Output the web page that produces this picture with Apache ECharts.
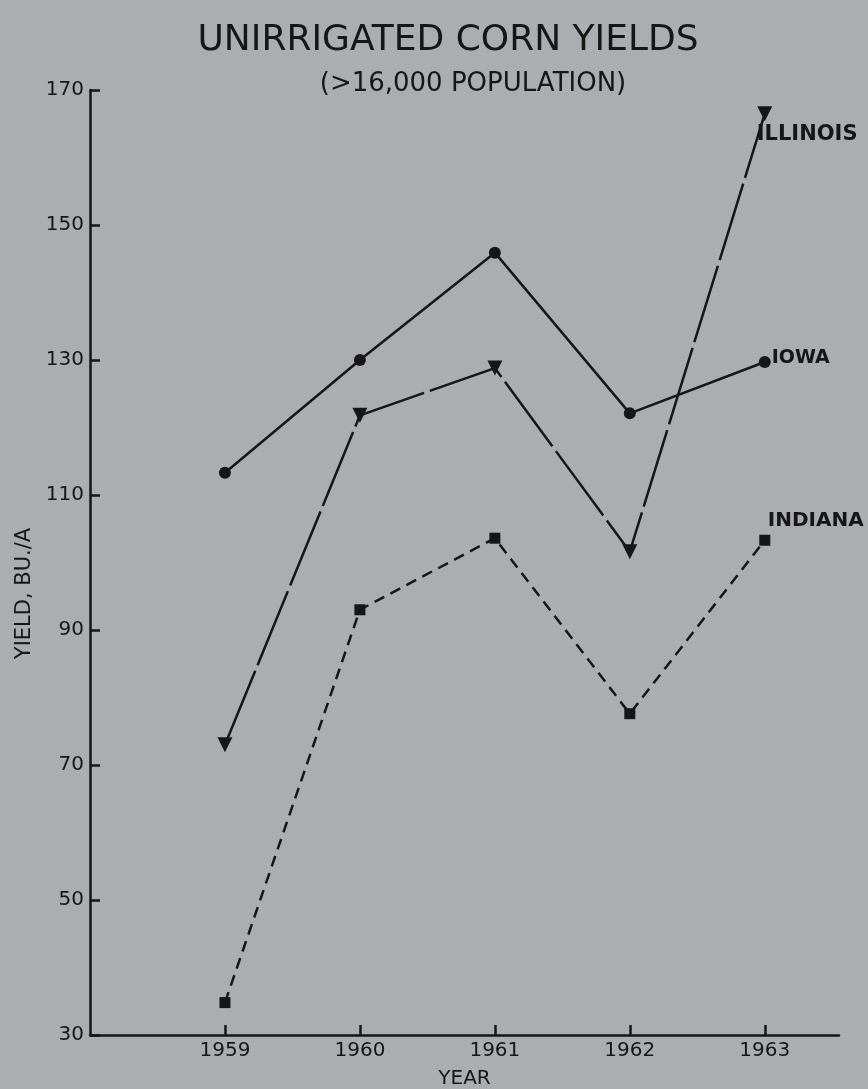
<!DOCTYPE html>
<html>
<head>
<meta charset="utf-8">
<script src="https://cdn.jsdelivr.net/npm/echarts@6/dist/echarts.min.js"></script>
<style>
  html, body { margin: 0; padding: 0; background: #acadb1; }
  #chart { width: 868px; height: 1089px; }
</style>
</head>
<body>
<div id="chart"></div>
<script>
const years = [1959, 1960, 1961, 1962, 1963];
const iowa = [113.3, 130.0, 145.9, 122.1, 129.7];
const illinois = [73.0, 121.8, 128.8, 101.6, 166.5];
const indiana = [34.8, 93.0, 103.6, 77.6, 103.3];
const seriesNames = ['ILLINOIS', 'IOWA', 'INDIANA'];

const ink = '#161616';
const font = 'DejaVu Sans';

function pairs(vals) { return years.map((y, i) => [y, vals[i]]); }

const chart = echarts.init(document.getElementById('chart'));
chart.setOption({
  backgroundColor: '#acadb1',
  animation: false,
  title: [
    { text: 'UNIRRIGATED CORN YIELDS', left: 443, top: 18, textAlign: 'center',
      textStyle: { fontFamily: font, fontSize: 36, fontWeight: 'normal', color: ink } },
    { text: '(>16,000 POPULATION)', left: 468, top: 66, textAlign: 'center',
      textStyle: { fontFamily: font, fontSize: 26, fontWeight: 'normal', color: ink } }
  ],
  grid: { left: 90, right: 29, top: 90, bottom: 54, containLabel: false, outerBoundsMode: 'none' },
  xAxis: {
    type: 'value', min: 1958, max: 1963.55,
    name: 'YEAR', nameLocation: 'middle', nameGap: 34,
    nameTextStyle: { fontFamily: font, fontSize: 20, color: ink },
    axisLine: { show: true, onZero: false, lineStyle: { color: ink, width: 2.5 } },
    axisTick: { show: true, inside: true, length: 10, customValues: years, lineStyle: { color: ink, width: 2.5 } },
    axisLabel: { customValues: years, formatter: v => String(v), margin: 6,
      fontFamily: font, fontSize: 20, color: ink },
    splitLine: { show: false }
  },
  yAxis: {
    type: 'value', min: 30, max: 170, interval: 20,
    name: 'YIELD, BU./A', nameLocation: 'middle', nameRotate: 90, nameGap: 46,
    nameTextStyle: { fontFamily: font, fontSize: 21, color: ink, padding: [0, 62, 0, 0] },
    axisLine: { show: true, onZero: false, lineStyle: { color: ink, width: 2.5 } },
    axisTick: { show: true, inside: true, length: 10, lineStyle: { color: ink, width: 2.5 } },
    axisLabel: { margin: 6, fontFamily: font, fontSize: 20, color: ink },
    splitLine: { show: false }
  },
  series: [
    {
      name: seriesNames[0], type: 'line', data: pairs(illinois),
      symbol: 'triangle', symbolRotate: 180, symbolSize: 15,
      itemStyle: { color: ink },
      lineStyle: { color: ink, width: 2.5, type: [80, 6] },
      endLabel: { show: true, formatter: '{a}', offset: [-16, 21],
        fontFamily: font, fontSize: 21, fontWeight: 'bold', color: ink }
    },
    {
      name: seriesNames[1], type: 'line', data: pairs(iowa),
      symbol: 'circle', symbolSize: 12,
      itemStyle: { color: ink },
      lineStyle: { color: ink, width: 2.5, type: 'solid' },
      endLabel: { show: true, formatter: '{a}', offset: [-1, -4],
        fontFamily: font, fontSize: 19, fontWeight: 'bold', color: ink }
    },
    {
      name: seriesNames[2], type: 'line', data: pairs(indiana),
      symbol: 'rect', symbolSize: 11,
      itemStyle: { color: ink },
      lineStyle: { color: ink, width: 2.5, type: [11, 7] },
      endLabel: { show: true, formatter: '{a}', offset: [-5, -19],
        fontFamily: font, fontSize: 20, fontWeight: 'bold', color: ink }
    }
  ]
});
</script>
</body>
</html>
